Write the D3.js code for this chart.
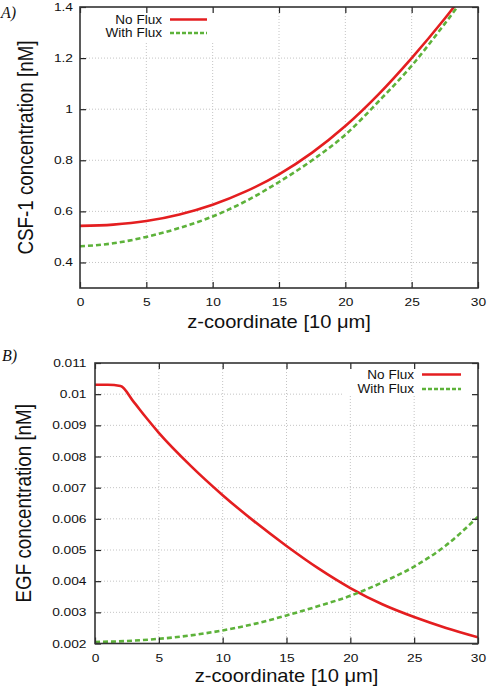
<!DOCTYPE html>
<html>
<head>
<meta charset="utf-8">
<script src="https://cdn.jsdelivr.net/npm/d3@7"></script>
<style>
  html, body { margin: 0; padding: 0; background: #fff; }
  svg { display: block; }
  text { font-family: "Liberation Sans", Arial, Helvetica, sans-serif; fill: #111; }
</style>
</head>
<body>
<svg id="chart" width="487" height="690"></svg>
<script>
// ---------- DATA ----------
const zA = [0, 2.5, 5, 7.5, 10, 12.5, 15, 17.5, 20, 22.5, 25, 27.5, 30];
const csfNoFlux   = [0.543, 0.548, 0.562, 0.588, 0.626, 0.678, 0.745, 0.830, 0.934, 1.058, 1.200, 1.355, 1.523];
const csfWithFlux = [0.463, 0.475, 0.500, 0.535, 0.580, 0.640, 0.715, 0.800, 0.900, 1.030, 1.170, 1.335, 1.510];

const zBNoFlux = [0, 1, 2, 3, 4, 5, 7.5, 10, 12.5, 15, 17.5, 20, 22.5, 25, 27.5, 30];
const egfNoFlux = [0.01030, 0.01030, 0.01026, 0.00977, 0.00925, 0.00876, 0.00770, 0.00676, 0.00591, 0.00513, 0.00441, 0.00378, 0.00326, 0.00285, 0.00250, 0.00220];
const zBWithFlux = [0, 2.5, 5, 7.5, 10, 12.5, 15, 17.5, 20, 22.5, 25, 27.5, 30];
const egfWithFlux = [0.00205, 0.00208, 0.00215, 0.00226, 0.00242, 0.00263, 0.00290, 0.00320, 0.00353, 0.00396, 0.00447, 0.00515, 0.00607];

const xTicks = [0, 5, 10, 15, 20, 25, 30];
const yTicksA = [0.4, 0.6, 0.8, 1, 1.2, 1.4];
const yTicksB = [0.002, 0.003, 0.004, 0.005, 0.006, 0.007, 0.008, 0.009, 0.01, 0.011];
const seriesNames = ["No Flux", "With Flux"];
const panelLabels = ["A)", "B)"];
const xTitle = "z-coordinate [10 \u03bcm]";
const yTitles = ["CSF-1 concentration [nM]", "EGF concentration [nM]"];

// ---------- STYLE ----------
const RED = "#e41e20", GREEN = "#5db23a";
const SX_TICK = 1.25, SX_TITLE = 1.15;

const svg = d3.select("#chart");

function drawPanel(cfg) {
  const {left, right, top, bottom, xDomain, yDomain, yTicks, yFmt, series, legend, yTitle, label, idx} = cfg;
  const x = d3.scaleLinear().domain(xDomain).range([left, right]);
  const y = d3.scaleLinear().domain(yDomain).range([bottom, top]);
  const g = svg.append("g");
  const w = right - left, h = bottom - top;

  // grid
  const grid = g.append("g").attr("stroke", "#c4c4c4").attr("stroke-width", 1).attr("stroke-dasharray", "1,2");
  grid.selectAll("line.v").data(xTicks.filter(d => d > xDomain[0] && d < xDomain[1])).join("line")
    .attr("x1", d => x(d)).attr("x2", d => x(d)).attr("y1", top).attr("y2", bottom);
  grid.selectAll("line.h").data(yTicks.filter(d => d > yDomain[0] + 1e-9 && d < yDomain[1] - 1e-9)).join("line")
    .attr("y1", d => y(d)).attr("y2", d => y(d)).attr("x1", left).attr("x2", right);

  // legend background
  g.append("rect").attr("x", legend.box[0]).attr("y", legend.box[1])
    .attr("width", legend.box[2]).attr("height", legend.box[3]).attr("fill", "#fff");

  // curves
  const clipId = "clip" + idx;
  svg.append("clipPath").attr("id", clipId).append("rect")
    .attr("x", left).attr("y", top).attr("width", w).attr("height", h);
  series.forEach(s => {
    const line = d3.line().x(d => x(d[0])).y(d => y(d[1])).curve(d3.curveMonotoneX);
    g.append("path").attr("clip-path", `url(#${clipId})`)
      .attr("d", line(s.xs.map((v, i) => [v, s.ys[i]])))
      .attr("fill", "none").attr("stroke", s.color).attr("stroke-width", 2.6)
      .attr("stroke-dasharray", s.dash ? "5,3" : null);
  });

  // legend entries
  series.forEach((s, i) => {
    const ly = legend.y[i];
    g.append("text").attr("transform", `translate(${legend.textX},${ly}) scale(1.06,1)`)
      .attr("text-anchor", "end").attr("dominant-baseline", "central")
      .style("font-size", "12.8px").text(s.name);
    g.append("line").attr("x1", legend.lineX[0]).attr("x2", legend.lineX[1])
      .attr("y1", ly).attr("y2", ly).attr("stroke", s.color).attr("stroke-width", 2.6)
      .attr("stroke-dasharray", s.dash ? "4,2" : null);
  });

  // axes (ticks inward, mirrored)
  const tk = 6;
  const axB = g.append("g").attr("transform", `translate(0,${bottom})`)
    .call(d3.axisBottom(x).tickValues(xTicks).tickSize(-tk).tickPadding(0).tickFormat(d3.format("d")));
  const axT = g.append("g").attr("transform", `translate(0,${top})`)
    .call(d3.axisTop(x).tickValues(xTicks).tickSize(-tk).tickFormat(""));
  const axL = g.append("g").attr("transform", `translate(${left},0)`)
    .call(d3.axisLeft(y).tickValues(yTicks).tickSize(-tk).tickFormat(yFmt));
  const axR = g.append("g").attr("transform", `translate(${right},0)`)
    .call(d3.axisRight(y).tickValues(yTicks).tickSize(-tk).tickFormat(""));
  [axB, axT, axL, axR].forEach(a => {
    a.select(".domain").remove();
    a.selectAll(".tick line").attr("stroke", "#222").attr("stroke-width", 1.2);
  });
  axB.selectAll(".tick text").attr("y", null).attr("dy", null)
    .attr("transform", `translate(0,18) scale(${SX_TICK},1)`)
    .style("font-size", "11px").style("font-family", "Liberation Sans, Arial, sans-serif").attr("fill", "#111");
  axL.selectAll(".tick text").attr("x", null).attr("dy", null)
    .attr("dominant-baseline", "central")
    .attr("transform", `translate(${-cfg.yLabGap},0) scale(${SX_TICK},1)`)
    .style("font-size", "11px").style("font-family", "Liberation Sans, Arial, sans-serif").attr("fill", "#111");
  // frame
  g.append("rect").attr("x", left).attr("y", top).attr("width", w).attr("height", h)
    .attr("fill", "none").attr("stroke", "#333").attr("stroke-width", 1.6);

  // titles
  g.append("text").attr("transform", `translate(${(left + right) / 2},${cfg.xTitleY}) scale(${SX_TITLE},1)`)
    .attr("text-anchor", "middle").style("font-size", "17.5px").text(xTitle);
  g.append("text").attr("transform", `translate(${cfg.yTitleX},${(top + bottom) / 2}) scale(1.2,1) rotate(-90)`)
    .attr("text-anchor", "middle").style("font-size", "18.8px").text(yTitle);

  // panel label
  svg.append("text").attr("x", cfg.labelPos[0]).attr("y", cfg.labelPos[1])
    .style("font-family", "Liberation Serif, Times New Roman, serif").style("font-style", "italic")
    .style("font-size", "16px").text(label);
}

drawPanel({
  idx: 0, left: 80, right: 478, top: 7, bottom: 288,
  xDomain: [0, 30], yDomain: [0.3, 1.4], yTicks: yTicksA,
  yFmt: d => d3.format("")(+d.toFixed(2)), yLabGap: 7,
  series: [
    {name: seriesNames[0], xs: zA, ys: csfNoFlux, color: RED, dash: false},
    {name: seriesNames[1], xs: zA, ys: csfWithFlux, color: GREEN, dash: true}
  ],
  legend: {box: [81, 8, 134, 34], textX: 162, lineX: [170, 207], y: [19.5, 33]},
  yTitle: yTitles[0], label: panelLabels[0], labelPos: [1, 18],
  xTitleY: 328, yTitleX: 32.5
});

drawPanel({
  idx: 1, left: 95, right: 478, top: 363, bottom: 643.5,
  xDomain: [0, 30], yDomain: [0.002, 0.011], yTicks: yTicksB,
  yFmt: d => d3.format("")(+d.toFixed(3)), yLabGap: 8.5,
  series: [
    {name: seriesNames[0], xs: zBNoFlux, ys: egfNoFlux, color: RED, dash: false},
    {name: seriesNames[1], xs: zBWithFlux, ys: egfWithFlux, color: GREEN, dash: true}
  ],
  legend: {box: [342, 364, 135, 32], textX: 414, lineX: [422, 461], y: [374.5, 389]},
  yTitle: yTitles[1], label: panelLabels[1], labelPos: [2, 361],
  xTitleY: 682, yTitleX: 30.5
});
</script>
</body>
</html>
